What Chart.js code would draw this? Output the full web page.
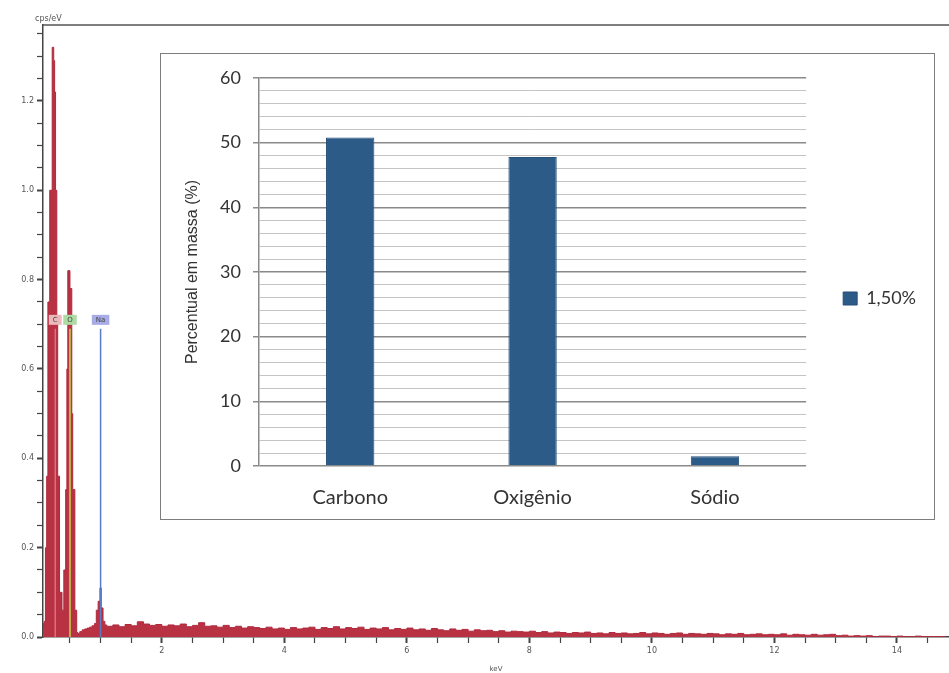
<!DOCTYPE html>
<html>
<head>
<meta charset="utf-8">
<script src="https://cdn.jsdelivr.net/npm/chart.js@4.4.0/dist/chart.umd.min.js"></script>
<style>
  html, body { margin: 0; padding: 0; background: #fff; }
  #wrap { position: relative; width: 949px; height: 673px; overflow: hidden; }
  #spectrum { position: absolute; left: 0; top: 0; }
  #inset { position: absolute; left: 160px; top: 53px; width: 773px; height: 465px;
           border: 1.5px solid #7d7d7d; background: #fff; }
</style>
</head>
<body>
<div id="wrap">
  <canvas id="spectrum" width="949" height="673"></canvas>
  <div id="inset"><canvas id="bars" width="773" height="465"></canvas></div>
</div>
<script>
// EDS spectrum (keV, cps/eV), drawn as steps
var spectrumKeV = [
  0.06,0.08,0.10,0.12,0.14,0.17,0.21,0.235,0.25,0.265,
  0.285,0.30,0.33,0.37,0.40,0.43,0.45,0.465,0.50,0.53,
  0.545,0.58,0.61,0.63,0.66,0.70,0.74,0.78,0.82,0.86,
  0.90,0.93,0.96,0.99,1.01,1.04,1.07,1.10,1.14,
  1.2,1.3,1.4,1.5,1.6,1.7,1.8,1.9,2.0,2.1,
  2.2,2.3,2.4,2.5,2.6,2.7,2.8,2.9,3.0,3.1,
  3.2,3.3,3.4,3.5,3.6,3.7,3.8,3.9,4.0,4.1,
  4.2,4.3,4.4,4.5,4.6,4.7,4.8,4.9,5.0,5.1,
  5.2,5.3,5.4,5.5,5.6,5.7,5.8,5.9,6.0,6.1,
  6.2,6.3,6.4,6.5,6.6,6.7,6.8,6.9,7.0,7.1,
  7.2,7.3,7.4,7.5,7.6,7.7,7.8,7.9,8.0,8.1,
  8.2,8.3,8.4,8.5,8.6,8.7,8.8,8.9,9.0,9.1,
  9.2,9.3,9.4,9.5,9.6,9.7,9.8,9.9,10.0,10.1,
  10.2,10.3,10.4,10.5,10.6,10.7,10.8,10.9,11.0,11.1,
  11.2,11.3,11.4,11.5,11.6,11.7,11.8,11.9,12.0,12.1,
  12.2,12.3,12.4,12.5,12.6,12.7,12.8,12.9,13.0,13.1,
  13.2,13.3,13.4,13.5,13.6,13.7,13.8,13.9,14.0,14.1,
  14.2,14.3,14.4,14.5,14.6,14.7,14.8
];
var spectrumCps = [
  0.02,0.03,0.035,0.2,0.36,0.75,1.0,1.32,1.29,1.22,
  1.0,0.72,0.36,0.1,0.06,0.15,0.33,0.6,0.82,0.78,
  0.5,0.33,0.06,0.01,0.008,0.012,0.016,0.018,0.02,0.022,
  0.025,0.03,0.06,0.08,0.11,0.065,0.035,0.027,0.024,
  0.024,0.027,0.023,0.028,0.025,0.034,0.029,0.026,0.028,0.024,
  0.027,0.025,0.029,0.023,0.026,0.032,0.024,0.025,0.022,0.026,
  0.021,0.024,0.02,0.023,0.021,0.019,0.022,0.018,0.02,0.017,
  0.021,0.018,0.02,0.022,0.017,0.021,0.019,0.023,0.018,0.021,
  0.019,0.022,0.017,0.02,0.018,0.021,0.016,0.019,0.017,0.02,
  0.016,0.018,0.015,0.019,0.016,0.014,0.018,0.015,0.017,0.013,
  0.016,0.014,0.015,0.012,0.014,0.011,0.013,0.012,0.011,0.013,
  0.01,0.012,0.009,0.011,0.01,0.008,0.01,0.009,0.011,0.008,
  0.009,0.007,0.01,0.008,0.009,0.007,0.008,0.01,0.007,0.009,
  0.008,0.006,0.008,0.009,0.006,0.008,0.007,0.006,0.008,0.007,
  0.005,0.007,0.006,0.008,0.005,0.006,0.007,0.005,0.006,0.005,
  0.007,0.004,0.006,0.005,0.004,0.006,0.004,0.005,0.006,0.003,
  0.004,0.002,0.003,0.002,0.003,0.001,0.002,0.002,0.001,0.002,
  0.001,0.001,0.002,0.001,0.001,0.001,0.001
];

// element markers on the spectrum
var elementSymbols = ['C', 'O', 'Na'];
var elementKeV = [0.26, 0.50, 1.00];
var markerTop = 0.69;
var markerLabelLevel = 0.71;

// spectrum axes
var keVTicks = [0.5,1,1.5,2,2.5,3,3.5,4,4.5,5,5.5,6,6.5,7,7.5,8,8.5,9,9.5,10,10.5,11,11.5,12,12.5,13,13.5,14,14.5];
var keVLabels = [2, 4, 6, 8, 10, 12, 14];
var cpsTicks = [0,0.05,0.1,0.15,0.2,0.25,0.3,0.35,0.4,0.45,0.5,0.55,0.6,0.65,0.7,0.75,0.8,0.85,0.9,0.95,1.0,1.05,1.1,1.15,1.2,1.25,1.3,1.35];
var cpsLabels = [0, 0.2, 0.4, 0.6, 0.8, 1.0, 1.2];

// inset bar chart
var elementNames = ['Carbono', 'Oxigênio', 'Sódio'];
var massPercent = [50.8, 47.8, 1.5];
var seriesName = '1,50%';

var markerLine = ['#d9707c', '#bdb24e', '#5b7cc4'];
var markerBox = ['#ecb8bc', '#acdca4', '#a7abe6'];

function near(list, v) {
  return list.some(function (t) { return Math.abs(t - v) < 1e-6; });
}

var markerSets = elementKeV.map(function (k, i) {
  return {
    data: [{ x: k, y: 0 }, { x: k, y: markerTop }],
    borderColor: markerLine[i],
    borderWidth: i === 1 ? 2 : 1.5,
    pointRadius: 0,
    fill: false,
    order: 1
  };
});

var spectrumDecor = {
  id: 'spectrumDecor',
  afterDatasetsDraw: function (chart) {
    var ctx = chart.ctx, area = chart.chartArea;
    var xs = chart.scales.x, ys = chart.scales.y;
    ctx.save();
    ctx.strokeStyle = '#555';
    ctx.lineWidth = 1.5;
    ctx.beginPath();
    ctx.moveTo(area.left, area.top);
    ctx.lineTo(area.right, area.top);
    ctx.stroke();

    ctx.fillStyle = '#555';
    ctx.font = '8px "DejaVu Sans"';
    ctx.textAlign = 'left';
    ctx.textBaseline = 'bottom';
    ctx.fillText('cps/eV', area.left - 8, area.top - 2);

    ctx.font = '7px "DejaVu Sans"';
    ctx.textAlign = 'center';
    ctx.textBaseline = 'middle';
    elementSymbols.forEach(function (s, i) {
      var px = xs.getPixelForValue(elementKeV[i]);
      var py = ys.getPixelForValue(markerLabelLevel);
      var w = ctx.measureText(s).width + 8;
      ctx.fillStyle = markerBox[i];
      ctx.fillRect(px - w / 2, py - 5, w, 10);
      ctx.fillStyle = '#444';
      ctx.fillText(s, px, py);
    });
    ctx.restore();
  }
};

new Chart(document.getElementById('spectrum'), {
  type: 'line',
  data: {
    datasets: [{
      data: spectrumKeV.map(function (k, i) { return { x: k, y: spectrumCps[i] }; }),
      borderColor: '#b02a3d',
      backgroundColor: '#b83243',
      borderWidth: 1,
      pointRadius: 0,
      stepped: 'after',
      fill: 'origin',
      order: 2
    }].concat(markerSets)
  },
  options: {
    responsive: false,
    animation: false,
    layout: { padding: { top: 25, left: 0, right: 0, bottom: 0 } },
    plugins: { legend: { display: false }, tooltip: { enabled: false } },
    scales: {
      x: {
        type: 'linear', min: 0.06, max: 14.85,
        afterBuildTicks: function (s) { s.ticks = keVTicks.map(function (v) { return { value: v }; }); },
        afterFit: function (s) { s.height = 36; },
        ticks: {
          autoSkip: false, maxRotation: 0, padding: 3,
          color: '#555', font: { family: 'DejaVu Sans', size: 8 },
          callback: function (v) { return near(keVLabels, v) ? String(v) : ''; }
        },
        grid: {
          drawOnChartArea: false, tickLength: 6, tickColor: '#444',
          tickWidth: function (c) { return c.tick && near(keVLabels, c.tick.value) ? 2 : 1.2; }
        },
        border: { color: '#444', width: 1.5 },
        title: { display: true, text: 'keV', color: '#555', font: { family: 'DejaVu Sans', size: 7 }, padding: 0 }
      },
      y: {
        type: 'linear', min: 0, max: 1.37,
        afterBuildTicks: function (s) { s.ticks = cpsTicks.map(function (v) { return { value: v }; }); },
        afterFit: function (s) { s.width = 43; },
        ticks: {
          autoSkip: false, padding: 3,
          color: '#555', font: { family: 'DejaVu Sans', size: 8 },
          callback: function (v) { return near(cpsLabels, v) ? v.toFixed(1) : ''; }
        },
        grid: {
          drawOnChartArea: false, tickLength: 6, tickColor: '#444',
          tickWidth: function (c) { return c.tick && near(cpsLabels, c.tick.value) ? 2 : 1.2; }
        },
        border: { color: '#444', width: 1.5 }
      }
    }
  },
  plugins: [spectrumDecor]
});

new Chart(document.getElementById('bars'), {
  type: 'bar',
  data: {
    labels: elementNames,
    datasets: [{
      label: seriesName,
      data: massPercent,
      backgroundColor: '#2c5b88',
      borderColor: '#264f78',
      borderWidth: 1,
      barPercentage: 0.53,
      categoryPercentage: 0.5
    }]
  },
  options: {
    responsive: false,
    animation: false,
    layout: { padding: { top: 24, left: 18, right: 8, bottom: 0 } },
    plugins: {
      tooltip: { enabled: false },
      legend: {
        position: 'right',
        labels: {
          boxWidth: 14, boxHeight: 13, padding: 37,
          color: '#333', font: { family: 'Lato', size: 18 }
        }
      }
    },
    scales: {
      x: {
        afterFit: function (s) { s.height = 53; },
        grid: { display: false },
        border: { display: false },
        ticks: { padding: 12, color: '#333', font: { family: 'Lato', size: 20 } }
      },
      y: {
        min: 0, max: 60,
        afterFit: function (s) { s.width = 80; },
        ticks: {
          stepSize: 2, autoSkip: false, padding: 12,
          color: '#333', font: { family: 'Lato', size: 18 },
          callback: function (v) { return v % 10 === 0 ? v : ''; }
        },
        grid: {
          tickLength: 6,
          color: function (c) { return c.tick && c.tick.value % 10 === 0 ? '#8a8a8a' : '#c4c4c4'; },
          lineWidth: function (c) { return c.tick && c.tick.value % 10 === 0 ? 1.5 : 1; },
          tickColor: function (c) { return c.tick && c.tick.value % 10 === 0 ? '#8a8a8a' : 'rgba(0,0,0,0)'; }
        },
        border: { color: '#8a8a8a', width: 1.5 },
        title: {
          display: true, text: 'Percentual em massa (%)',
          color: '#333', font: { family: 'Liberation Sans', size: 16 }, padding: 4
        }
      }
    }
  }
});
</script>
</body>
</html>
